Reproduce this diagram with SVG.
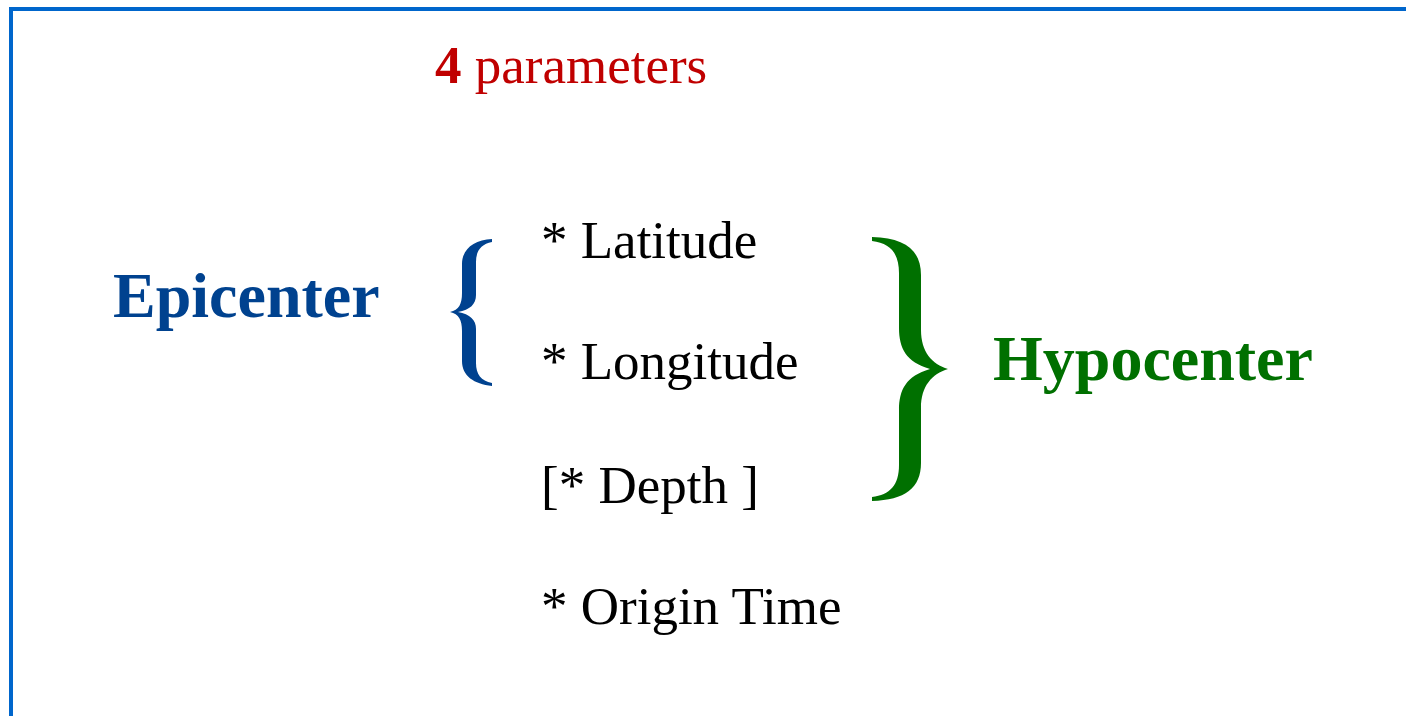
<svg xmlns="http://www.w3.org/2000/svg" width="1406" height="716" viewBox="0 0 1406 716">
<style>
.reg{font-family:"Liberation Serif","Times New Roman",serif;font-size:53px;fill:#000}
.bold{font-family:"Liberation Serif","Times New Roman",serif;font-size:64px;font-weight:bold}
.blue{fill:#00428F}
.green{fill:#007000}
.red{fill:#C00000}
</style>
<rect width="1406" height="716" fill="#fff"/>
<path d="M11,716 L11,9 L1406,9" fill="none" stroke="#0066CC" stroke-width="4"/>
<g id="title"><text x="435" y="83" class="reg red"><tspan font-weight="bold">4</tspan> parameters</text></g>
<g id="epicenter"><text x="113" y="317" class="bold blue">Epicenter</text></g>
<g id="hypocenter"><text x="993" y="380" class="bold green">Hypocenter</text></g>
<g id="list">
<text x="541" y="258" class="reg">* Latitude</text>
<text x="541" y="379" class="reg">* Longitude</text>
<text x="541" y="503" class="reg">[* Depth ]</text>
<text x="541" y="624" class="reg">* Origin Time</text>
</g>
<g id="connectors">
<path id="leftBrace" class="blue" d="M492,239 C474,240 462,249 462,264 L462,293 C462,304 459,310 450,312 C459,314 462,320 462,331 L462,361 C462,376 474,384 492,386 L492,383 C481,381 476,374 476,363 L476,329 C476,320 470,314 458,312 C470,310 476,304 476,295 L476,262 C476,251 481,244 492,242 Z"/>
<path id="rightBrace" class="green" d="M872,237 C905,238 921,250 921,275 L921,330 C921,352 932,364 948,369 C932,374 921,386 921,408 L921,463 C921,488 905,500 872,501 L872,497 C890,495 899,485 899,465 L899,410 C899,390 906,376 930,369 C906,362 899,348 899,328 L899,273 C899,253 890,243 872,241 Z"/>
</g>
</svg>
